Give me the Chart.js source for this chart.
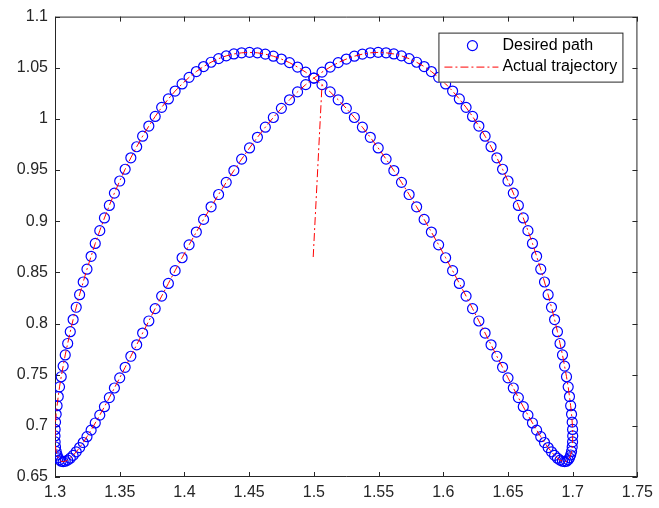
<!DOCTYPE html>
<html>
<head>
<meta charset="utf-8">
<script src="https://cdn.jsdelivr.net/npm/chart.js@4/dist/chart.umd.min.js"></script>
<style>
  html, body { margin: 0; padding: 0; background: #ffffff; }
  #wrap { width: 659px; height: 508px; position: relative; }
</style>
</head>
<body>
<div id="wrap"><canvas id="chart"></canvas></div>
<script>
// desired path (one loop of the curve)
const pathX = [
  1.7000, 1.6999, 1.6996, 1.6991, 1.6984, 1.6975, 1.6965, 1.6952, 1.6937, 1.6921,
  1.6902, 1.6882, 1.6860, 1.6836, 1.6810, 1.6782, 1.6753, 1.6721, 1.6689, 1.6654,
  1.6618, 1.6580, 1.6541, 1.6500, 1.6458, 1.6414, 1.6369, 1.6323, 1.6275, 1.6226,
  1.6176, 1.6124, 1.6072, 1.6018, 1.5964, 1.5908, 1.5852, 1.5794, 1.5736, 1.5677,
  1.5618, 1.5558, 1.5497, 1.5436, 1.5375, 1.5313, 1.5251, 1.5188, 1.5126, 1.5063,
  1.5000, 1.4937, 1.4874, 1.4812, 1.4749, 1.4687, 1.4625, 1.4564, 1.4503, 1.4442,
  1.4382, 1.4323, 1.4264, 1.4206, 1.4148, 1.4092, 1.4036, 1.3982, 1.3928, 1.3876,
  1.3824, 1.3774, 1.3725, 1.3677, 1.3631, 1.3586, 1.3542, 1.3500, 1.3459, 1.3420,
  1.3382, 1.3346, 1.3311, 1.3279, 1.3247, 1.3218, 1.3190, 1.3164, 1.3140, 1.3118,
  1.3098, 1.3079, 1.3063, 1.3048, 1.3035, 1.3025, 1.3016, 1.3009, 1.3004, 1.3001,
  1.3000, 1.3001, 1.3004, 1.3009, 1.3016, 1.3025, 1.3035, 1.3048, 1.3063, 1.3079,
  1.3098, 1.3118, 1.3140, 1.3164, 1.3190, 1.3218, 1.3247, 1.3279, 1.3311, 1.3346,
  1.3382, 1.3420, 1.3459, 1.3500, 1.3542, 1.3586, 1.3631, 1.3677, 1.3725, 1.3774,
  1.3824, 1.3876, 1.3928, 1.3982, 1.4036, 1.4092, 1.4148, 1.4206, 1.4264, 1.4323,
  1.4382, 1.4442, 1.4503, 1.4564, 1.4625, 1.4687, 1.4749, 1.4812, 1.4874, 1.4937,
  1.5000, 1.5063, 1.5126, 1.5188, 1.5251, 1.5313, 1.5375, 1.5436, 1.5497, 1.5558,
  1.5618, 1.5677, 1.5736, 1.5794, 1.5852, 1.5908, 1.5964, 1.6018, 1.6072, 1.6124,
  1.6176, 1.6226, 1.6275, 1.6323, 1.6369, 1.6414, 1.6458, 1.6500, 1.6541, 1.6580,
  1.6618, 1.6654, 1.6689, 1.6721, 1.6753, 1.6782, 1.6810, 1.6836, 1.6860, 1.6882,
  1.6902, 1.6921, 1.6937, 1.6952, 1.6965, 1.6975, 1.6984, 1.6991, 1.6996, 1.6999,
];
const pathY = [
  0.6901, 0.6843, 0.6793, 0.6750, 0.6715, 0.6687, 0.6667, 0.6654, 0.6650, 0.6654,
  0.6665, 0.6684, 0.6711, 0.6746, 0.6788, 0.6837, 0.6894, 0.6958, 0.7028, 0.7105,
  0.7187, 0.7276, 0.7370, 0.7469, 0.7572, 0.7680, 0.7792, 0.7907, 0.8025, 0.8146,
  0.8268, 0.8392, 0.8517, 0.8643, 0.8769, 0.8894, 0.9018, 0.9141, 0.9261, 0.9380,
  0.9495, 0.9607, 0.9716, 0.9820, 0.9919, 1.0014, 1.0103, 1.0187, 1.0264, 1.0335,
  1.0399, 1.0457, 1.0507, 1.0550, 1.0585, 1.0613, 1.0633, 1.0646, 1.0650, 1.0646,
  1.0635, 1.0616, 1.0589, 1.0554, 1.0512, 1.0463, 1.0406, 1.0342, 1.0272, 1.0195,
  1.0113, 1.0024, 0.9930, 0.9831, 0.9728, 0.9620, 0.9508, 0.9393, 0.9275, 0.9154,
  0.9032, 0.8908, 0.8783, 0.8657, 0.8531, 0.8406, 0.8282, 0.8159, 0.8039, 0.7920,
  0.7805, 0.7693, 0.7584, 0.7480, 0.7381, 0.7286, 0.7197, 0.7113, 0.7036, 0.6965,
  0.6901, 0.6843, 0.6793, 0.6750, 0.6715, 0.6687, 0.6667, 0.6654, 0.6650, 0.6654,
  0.6665, 0.6684, 0.6711, 0.6746, 0.6788, 0.6837, 0.6894, 0.6958, 0.7028, 0.7105,
  0.7187, 0.7276, 0.7370, 0.7469, 0.7572, 0.7680, 0.7792, 0.7907, 0.8025, 0.8146,
  0.8268, 0.8392, 0.8517, 0.8643, 0.8769, 0.8894, 0.9018, 0.9141, 0.9261, 0.9380,
  0.9495, 0.9607, 0.9716, 0.9820, 0.9919, 1.0014, 1.0103, 1.0187, 1.0264, 1.0335,
  1.0399, 1.0457, 1.0507, 1.0550, 1.0585, 1.0613, 1.0633, 1.0646, 1.0650, 1.0646,
  1.0635, 1.0616, 1.0589, 1.0554, 1.0512, 1.0463, 1.0406, 1.0342, 1.0272, 1.0195,
  1.0113, 1.0024, 0.9930, 0.9831, 0.9728, 0.9620, 0.9508, 0.9393, 0.9275, 0.9154,
  0.9032, 0.8908, 0.8783, 0.8657, 0.8531, 0.8406, 0.8282, 0.8159, 0.8039, 0.7920,
  0.7805, 0.7693, 0.7584, 0.7480, 0.7381, 0.7286, 0.7197, 0.7113, 0.7036, 0.6965,
];

// the trajectory starts below the crossing, climbs to the path, then tracks it
const trajStartX = [1.4995];
const trajStartY = [0.8650];
const trajJoinIndex = 49;

const xTicks = [1.3, 1.35, 1.4, 1.45, 1.5, 1.55, 1.6, 1.65, 1.7, 1.75];
const yTicks = [0.65, 0.7, 0.75, 0.8, 0.85, 0.9, 0.95, 1, 1.05, 1.1];

const seriesNames = ['Desired path', 'Actual trajectory'];

const BLUE = '#0000FF';
const RED = '#FF0000';
const AXIS = '#262626';
const FONT = "'Liberation Sans', Arial, Helvetica, sans-serif";
const TRAJ_DASH = [8, 3, 2, 3];

const toPoints = (xs, ys) => xs.map((x, i) => ({ x, y: ys[i] }));

const pathPoints = toPoints(pathX, pathY);
const trajPoints = toPoints(trajStartX, trajStartY)
  .concat(pathPoints.slice(trajJoinIndex))
  .concat(pathPoints.slice(0, trajJoinIndex + 1));

const fmt = (v) => String(Number(v.toFixed(2)));

// box around the axes with inward ticks on all four sides
const boxPlugin = {
  id: 'box',
  beforeDatasetsDraw(chart) {
    const { ctx, chartArea: a, scales } = chart;
    const len = 5;
    ctx.save();
    ctx.strokeStyle = AXIS;
    ctx.lineWidth = 1;
    ctx.beginPath();
    ctx.rect(a.left + 0.5, a.top + 0.5, a.right - a.left - 1, a.bottom - a.top - 1);
    xTicks.forEach((v) => {
      const px = Math.round(scales.x.getPixelForValue(v)) + 0.5;
      ctx.moveTo(px, a.bottom);
      ctx.lineTo(px, a.bottom - len);
      ctx.moveTo(px, a.top);
      ctx.lineTo(px, a.top + len);
    });
    yTicks.forEach((v) => {
      const py = Math.round(scales.y.getPixelForValue(v)) + 0.5;
      ctx.moveTo(a.left, py);
      ctx.lineTo(a.left + len, py);
      ctx.moveTo(a.right, py);
      ctx.lineTo(a.right - len, py);
    });
    ctx.stroke();
    ctx.restore();
  },
};

// MATLAB style legend box in the upper right corner
const legendPlugin = {
  id: 'boxLegend',
  afterDatasetsDraw(chart) {
    const { ctx, chartArea: a } = chart;
    const w = 185;
    const h = 50;
    const left = a.right - 14 - w;
    const top = a.top + 16;
    ctx.save();
    ctx.fillStyle = '#ffffff';
    ctx.fillRect(left, top, w, h);
    ctx.strokeStyle = AXIS;
    ctx.lineWidth = 1;
    ctx.strokeRect(left + 0.5, top + 0.5, w - 1, h - 1);

    const row1 = top + 13;
    const row2 = top + 34;
    ctx.strokeStyle = BLUE;
    ctx.lineWidth = 1.2;
    ctx.beginPath();
    ctx.arc(left + 34, row1, 5, 0, Math.PI * 2);
    ctx.stroke();

    ctx.strokeStyle = RED;
    ctx.lineWidth = 1;
    ctx.setLineDash(TRAJ_DASH);
    ctx.beginPath();
    ctx.moveTo(left + 6, row2 + 0.5);
    ctx.lineTo(left + 60, row2 + 0.5);
    ctx.stroke();
    ctx.setLineDash([]);

    ctx.fillStyle = '#000000';
    ctx.font = '16px ' + FONT;
    ctx.textBaseline = 'middle';
    ctx.textAlign = 'left';
    ctx.fillText(seriesNames[0], left + 64, row1);
    ctx.fillText(seriesNames[1], left + 64, row2);
    ctx.restore();
  },
};

const config = {
  type: 'scatter',
  data: {
    datasets: [
      {
        label: seriesNames[1],
        data: trajPoints,
        showLine: true,
        borderColor: RED,
        borderWidth: 1,
        borderDash: TRAJ_DASH,
        pointRadius: 0,
        fill: false,
        tension: 0,
      },
      {
        label: seriesNames[0],
        data: pathPoints,
        showLine: false,
        pointStyle: 'circle',
        pointRadius: 5,
        pointBorderWidth: 1.2,
        borderColor: BLUE,
        backgroundColor: 'rgba(0,0,0,0)',
      },
    ],
  },
  options: {
    responsive: true,
    maintainAspectRatio: false,
    animation: false,
    layout: { padding: { top: 16, right: 21, left: 0, bottom: 0 } },
    plugins: {
      legend: { display: false },
      tooltip: { enabled: false },
    },
    scales: {
      x: {
        type: 'linear',
        min: 1.3,
        max: 1.75,
        afterFit: (scale) => { scale.height = 31; },
        afterBuildTicks: (scale) => { scale.ticks = xTicks.map((value) => ({ value })); },
        grid: { display: false, drawTicks: false, tickLength: 0 },
        border: { display: false },
        ticks: {
          padding: 6,
          color: AXIS,
          font: { family: FONT, size: 16 },
          maxRotation: 0,
          autoSkip: false,
          callback: (v) => fmt(v),
        },
      },
      y: {
        type: 'linear',
        min: 0.65,
        max: 1.1,
        afterFit: (scale) => { scale.width = 55; },
        afterBuildTicks: (scale) => { scale.ticks = yTicks.map((value) => ({ value })); },
        grid: { display: false, drawTicks: false, tickLength: 0 },
        border: { display: false },
        ticks: {
          padding: 7,
          color: AXIS,
          font: { family: FONT, size: 16 },
          autoSkip: false,
          callback: (v) => fmt(v),
        },
      },
    },
  },
  plugins: [boxPlugin, legendPlugin],
};

window.addEventListener('DOMContentLoaded', () => {
  new Chart(document.getElementById('chart'), config);
});
</script>
</body>
</html>
